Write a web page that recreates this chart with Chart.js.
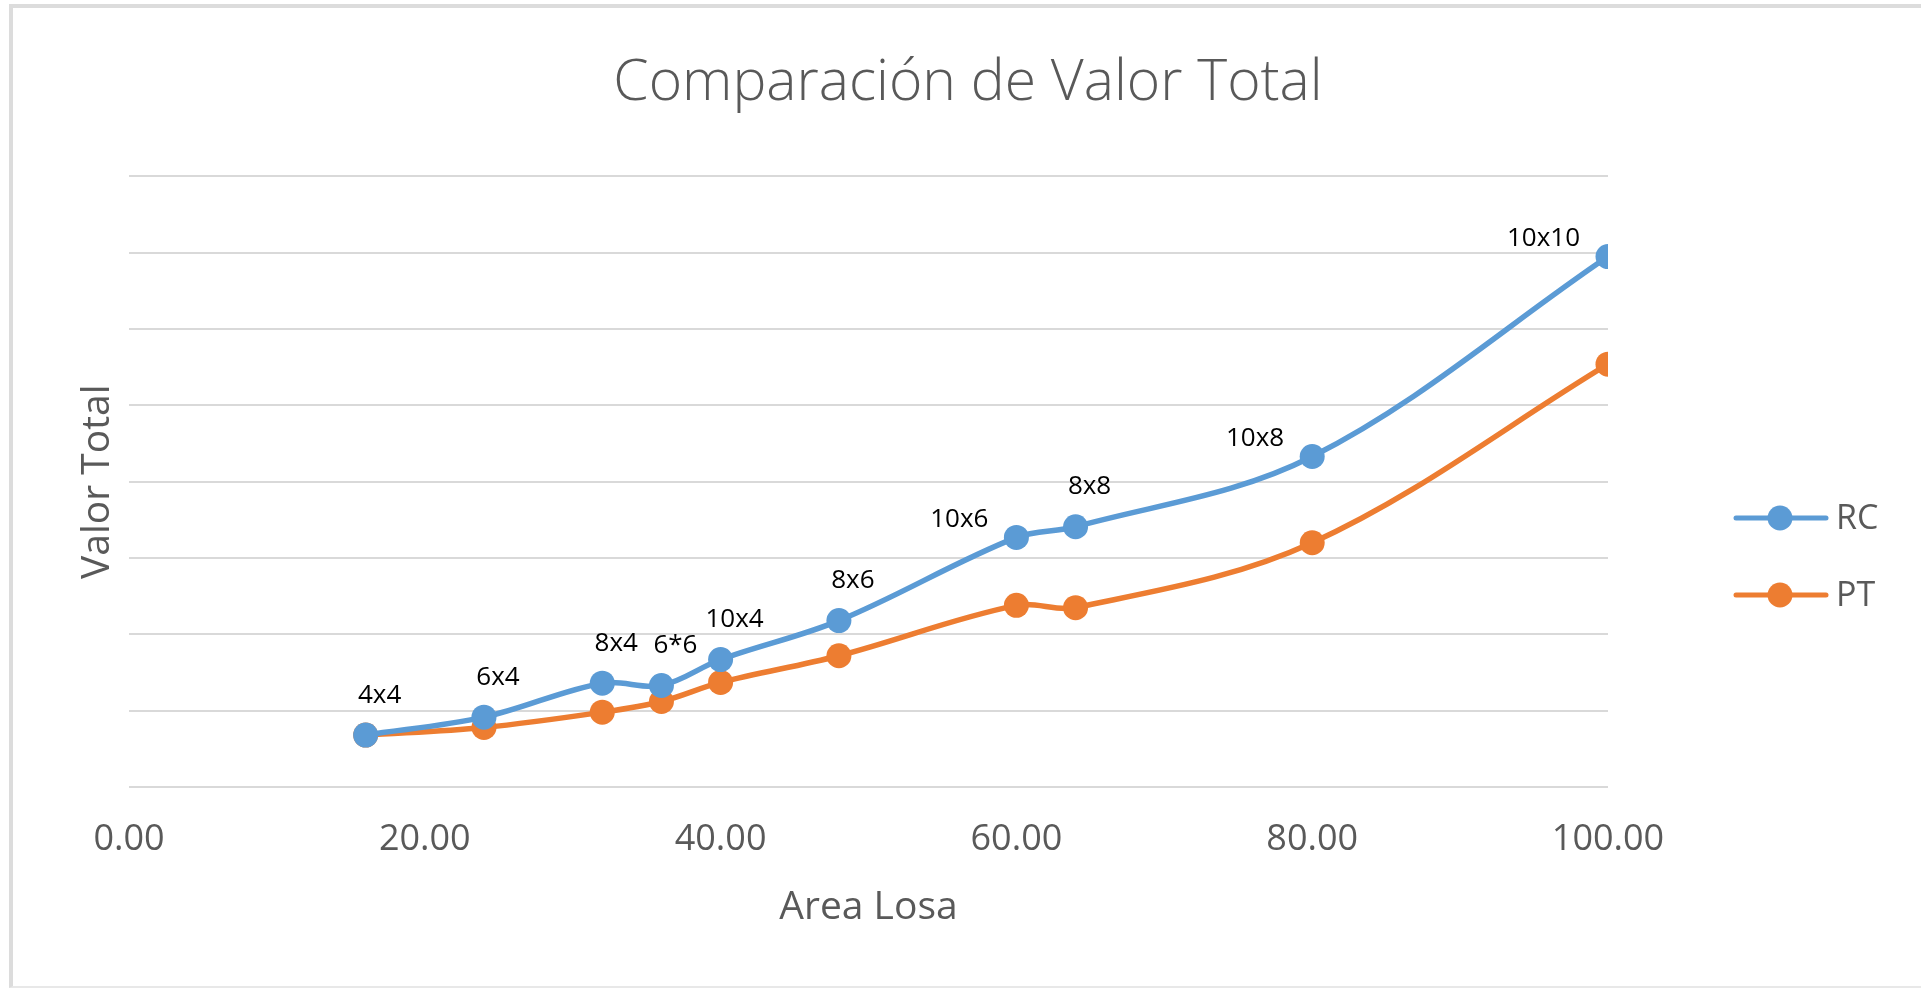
<!DOCTYPE html>
<html>
<head>
<meta charset="utf-8">
<script src="https://cdn.jsdelivr.net/npm/chart.js@4"></script>
<style>
    html, body { margin: 0; padding: 0; background: #fff; overflow: hidden; }
    .frame {
        position: absolute; left: 9px; top: 4px; right: -10px; bottom: 0;
        border-left: 4px solid #dcdcdc; border-top: 4px solid #dcdcdc;
        border-bottom: 2px solid #e8e8e8;
    }
    #chart { position: absolute; left: 0; top: 0; }
</style>
</head>
<body>
<div class="frame"></div>
<canvas id="chart" width="1921" height="988"></canvas>
<script>
// area of the slab (m2) and total value per system
const areas = [16, 24, 32, 36, 40, 48, 60, 64, 80, 100]
const rcValues = [0.68, 0.915, 1.36, 1.33, 1.67, 2.18, 3.27, 3.41, 4.33, 6.95]
const ptValues = [0.68, 0.78, 0.98, 1.12, 1.37, 1.72, 2.38, 2.35, 3.20, 5.54]
const pointLabels = ['4x4', '6x4', '8x4', '6*6', '10x4', '8x6', '10x6', '8x8', '10x8', '10x10']
const labelSide = ['top', 'top', 'top', 'top', 'top', 'top', 'left', 'top', 'left', 'left']
const seriesNames = ['RC', 'PT']
const xTicks = [0, 20, 40, 60, 80, 100]

const BLUE = '#5B9BD5'
const ORANGE = '#ED7D31'
const GREY = '#595959'
const FONT = '"Open Sans", "Noto Sans", sans-serif'

const toPoints = vals => areas.map((a, i) => ({ x: a, y: vals[i] }))

// labels with the slab size next to each RC point
const pointLabelPlugin = {
    id: 'pointLabels',
    afterDatasetsDraw(chart) {
        const ctx = chart.ctx
        const meta = chart.getDatasetMeta(0)
        ctx.save()
        ctx.font = '26px ' + FONT
        ctx.fillStyle = '#000'
        ctx.textBaseline = 'middle'
        meta.data.forEach((pt, i) => {
            if (labelSide[i] === 'left') {
                ctx.textAlign = 'right'
                ctx.fillText(pointLabels[i], pt.x - 28, pt.y - 18)
            } else {
                ctx.textAlign = 'center'
                ctx.fillText(pointLabels[i], pt.x + 14, pt.y - 40)
            }
        })
        ctx.restore()
    }
}

// excel style legend: line with a marker in the middle
const legendPlugin = {
    id: 'lineLegend',
    afterDraw(chart) {
        const ctx = chart.ctx
        const colors = [BLUE, ORANGE]
        ctx.save()
        seriesNames.forEach((name, i) => {
            const y = 518 + i * 77
            ctx.strokeStyle = colors[i]
            ctx.lineWidth = 5
            ctx.lineCap = 'round'
            ctx.beginPath()
            ctx.moveTo(1736, y)
            ctx.lineTo(1826, y)
            ctx.stroke()
            ctx.fillStyle = colors[i]
            ctx.beginPath()
            ctx.arc(1780, y, 12.5, 0, Math.PI * 2)
            ctx.fill()
            ctx.fillStyle = GREY
            ctx.font = '34px ' + FONT
            ctx.textAlign = 'left'
            ctx.textBaseline = 'middle'
            ctx.fillText(name, 1836, y + 1)
        })
        ctx.restore()
    }
}

const makeSet = (label, vals, color) => ({
    label: label,
    data: toPoints(vals),
    borderColor: color,
    backgroundColor: color,
    borderWidth: 5.5,
    pointRadius: 12.5,
    pointHoverRadius: 12.5,
    pointBorderWidth: 0,
    tension: 0.35,
    fill: false
})

new Chart(document.getElementById('chart'), {
    type: 'line',
    data: {
        datasets: [
            makeSet(seriesNames[0], rcValues, BLUE),
            makeSet(seriesNames[1], ptValues, ORANGE)
        ]
    },
    options: {
        responsive: false,
        animation: false,
        devicePixelRatio: 1,
        layout: { padding: { left: 15, right: 0, top: 0, bottom: 0 } },
        plugins: {
            legend: { display: false },
            tooltip: { enabled: false },
            title: {
                display: true,
                text: 'Comparación de Valor Total',
                color: GREY,
                font: { family: FONT, size: 57, weight: 300 },
                padding: { top: 50, bottom: 58 }
            }
        },
        scales: {
            x: {
                type: 'linear',
                min: 0,
                max: 100,
                afterBuildTicks: axis => { axis.ticks = xTicks.map(v => ({ value: v })) },
                afterFit: axis => { axis.height = 201 },
                grid: { display: false, drawTicks: false },
                border: { display: false },
                ticks: {
                    color: GREY,
                    font: { family: FONT, size: 36 },
                    padding: 31,
                    maxRotation: 0,
                    callback: v => Number(v).toFixed(2)
                },
                title: {
                    display: true,
                    text: 'Area Losa',
                    color: GREY,
                    font: { family: FONT, size: 39 },
                    padding: { top: 0, bottom: 57 }
                }
            },
            y: {
                min: 0,
                max: 8,
                afterFit: axis => { axis.width = 114 },
                grid: { color: '#d9d9d9', lineWidth: 2, drawTicks: false },
                border: { display: false },
                ticks: { display: false, stepSize: 1 },
                title: {
                    display: true,
                    text: 'Valor Total',
                    color: GREY,
                    font: { family: FONT, size: 39 },
                    padding: { top: 59, bottom: 0 }
                }
            },
            // empty axis that keeps room on the right for the legend
            legendSpace: {
                type: 'linear',
                position: 'right',
                afterFit: axis => { axis.width = 313 },
                grid: { display: false, drawTicks: false },
                border: { display: false },
                ticks: { display: false }
            }
        }
    },
    plugins: [pointLabelPlugin, legendPlugin]
})
</script>
</body>
</html>
